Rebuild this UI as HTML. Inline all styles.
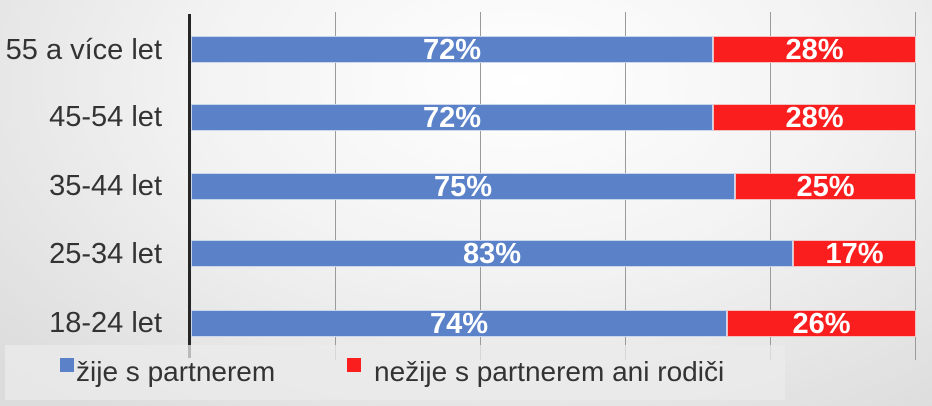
<!DOCTYPE html>
<html><head><style>
body{margin:0}
#c{position:relative;width:932px;height:406px;overflow:hidden;font-family:"Liberation Sans",sans-serif;
background:radial-gradient(ellipse 700px 420px at 520px 80px,#ffffff 0%,#f3f3f3 45%,#dcdcdc 100%);}
.g{position:absolute;top:12px;height:348px;width:1px;background:#9a9a9a}
.ax{position:absolute;left:188px;top:14px;width:3px;height:344px;background:#262626}
.lab{position:absolute;right:770px;font-size:29px;color:#333;line-height:30px;white-space:nowrap}
.b{position:absolute;height:27px;color:#fff;font-weight:bold;font-size:29px;line-height:27px;text-align:center;box-sizing:border-box;border:1px solid #c9d6ee}
.bl{background:#5b82c9}
.rd{background:#fa1e1e;border-color:#f3c0c0}
#lg{position:absolute;left:5px;top:345px;width:780px;height:55px;background:rgba(235,235,235,0.75);font-size:28px;color:#333}
.li{position:absolute;top:10px;white-space:nowrap;line-height:34px}
.sq{position:absolute;top:13px;width:14px;height:14px}
</style></head><body><div id="c">
<div class="g" style="left:335px"></div><div class="g" style="left:480px"></div><div class="g" style="left:625px"></div><div class="g" style="left:770px"></div><div class="g" style="left:915px"></div>
<div class="ax"></div>
<div class="lab" style="top:35px">55 a více let</div>
<div class="lab" style="top:102px">45-54 let</div>
<div class="lab" style="top:171px">35-44 let</div>
<div class="lab" style="top:239px">25-34 let</div>
<div class="lab" style="top:308px">18-24 let</div>

<div class="b bl" style="left:191px;top:36px;width:522px">72%</div><div class="b rd" style="left:713px;top:36px;width:203px">28%</div>
<div class="b bl" style="left:191px;top:104px;width:522px">72%</div><div class="b rd" style="left:713px;top:104px;width:203px">28%</div>
<div class="b bl" style="left:191px;top:173px;width:544px">75%</div><div class="b rd" style="left:735px;top:173px;width:181px">25%</div>
<div class="b bl" style="left:191px;top:240px;width:602px">83%</div><div class="b rd" style="left:793px;top:240px;width:123px">17%</div>
<div class="b bl" style="left:191px;top:310px;width:536px">74%</div><div class="b rd" style="left:727px;top:310px;width:189px">26%</div>

<div id="lg">
<div class="sq" style="left:55px;background:#5b82c9"></div><div class="li" style="left:71px">žije s partnerem</div>
<div class="sq" style="left:342px;background:#fa1e1e"></div><div class="li" style="left:369px">nežije s partnerem ani rodiči</div>
</div>
</div></body></html>
